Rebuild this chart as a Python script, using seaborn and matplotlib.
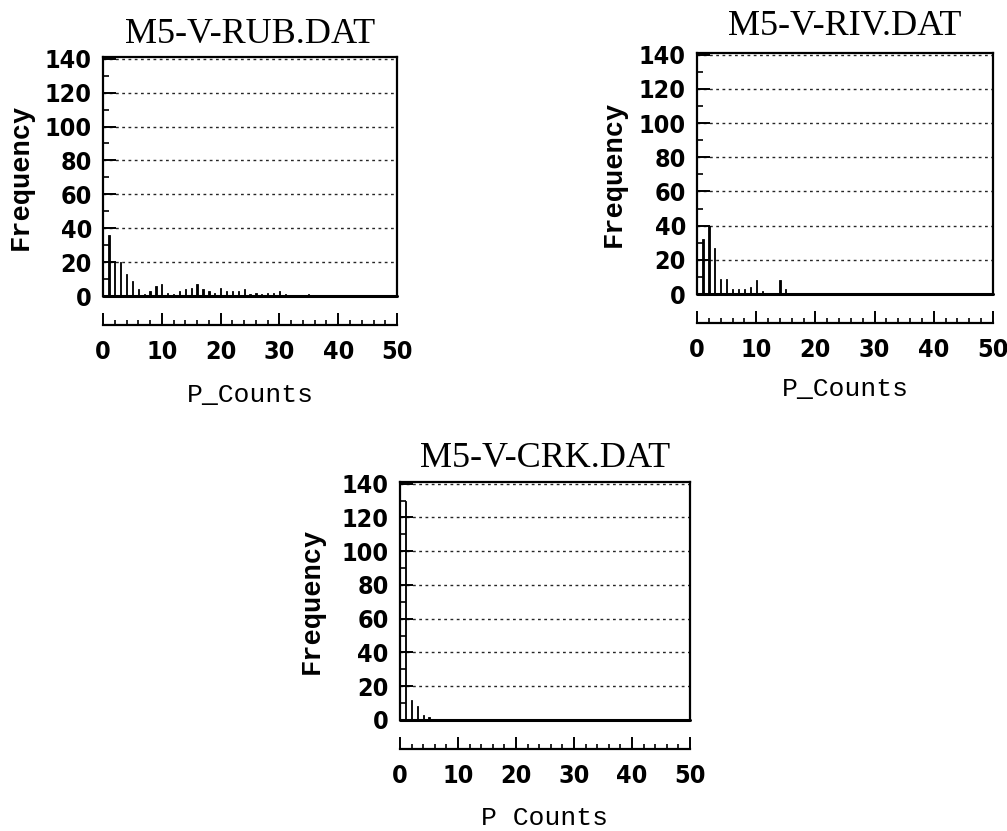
import numpy as np
import matplotlib
matplotlib.use("Agg")
import matplotlib.pyplot as plt
from matplotlib.ticker import MultipleLocator
from matplotlib.font_manager import FontProperties
import seaborn as sns

# P count values and their frequencies
rub_counts = [1, 2, 3, 4, 5, 6, 7, 8, 9, 10, 11, 12, 13, 14, 15, 16, 17, 18,
              19, 20, 21, 22, 23, 24, 25, 26, 27, 28, 29, 30, 31, 35]
rub_freq = [36, 20, 20, 13, 9, 4, 1, 3, 6, 7, 2, 1, 3, 4, 5, 7, 4, 3,
            2, 5, 3, 3, 3, 4, 1, 2, 1, 2, 2, 3, 1, 1]

riv_counts = [1, 2, 3, 4, 5, 6, 7, 8, 9, 10, 11, 14, 15]
riv_freq = [32, 40, 27, 9, 9, 3, 3, 3, 4, 8, 2, 8, 3]

crk_counts = [1, 2, 3, 4, 5]
crk_freq = [130, 12, 8, 3, 2]

titles = ["M5-V-RUB.DAT", "M5-V-RIV.DAT", "M5-V-CRK.DAT"]
xlabels = ["P_Counts", "P_Counts", "P Counts"]

sns.set_style("white")
plt.rcParams["font.family"] = ["DejaVu Sans"]
plt.rcParams["text.color"] = "black"
plt.rcParams["axes.labelcolor"] = "black"
plt.rcParams["xtick.color"] = "black"
plt.rcParams["ytick.color"] = "black"

fig = plt.figure(figsize=(10.07, 8.31), dpi=100)

rects = [
    [0.1023, 0.6438, 0.2920, 0.2876],
    [0.6922, 0.6462, 0.2939, 0.2900],
    [0.3972, 0.1336, 0.2880, 0.2864],
]
ylabel_x = [-0.235, -0.236, -0.259]
xlabel_y = [-0.365, -0.344, -0.36]
title_y = [1.025, 1.04, 1.03]

panels = [(rub_counts, rub_freq), (riv_counts, riv_freq), (crk_counts, crk_freq)]

tick_font = FontProperties(family="DejaVu Sans", weight="bold",
                           stretch="condensed", size=18)

for i, (counts, freq) in enumerate(panels):
    ax = fig.add_axes(rects[i])
    sns.histplot(x=counts, weights=freq, discrete=True, shrink=0.22,
                 color="black", edgecolor="black", linewidth=0.6, alpha=1,
                 ax=ax)
    ax.set_xlim(0, 50)
    ax.set_ylim(0, 141)

    # dotted horizontal grid, like the faded scan lines
    ax.yaxis.grid(True, linestyle=(0, (2, 2.5)), color="0.15", linewidth=1.0)
    ax.set_axisbelow(True)

    for side in ["left", "top", "right"]:
        ax.spines[side].set_linewidth(1.6)
        ax.spines[side].set_color("black")
    # x axis sits detached below the box
    ax.spines["bottom"].set_position(("outward", 21))
    ax.spines["bottom"].set_linewidth(1.6)
    ax.spines["bottom"].set_color("black")
    ax.axhline(0, color="black", linewidth=2.2, clip_on=False, zorder=3)

    ax.xaxis.set_major_locator(MultipleLocator(10))
    ax.xaxis.set_minor_locator(MultipleLocator(2))
    ax.yaxis.set_major_locator(MultipleLocator(20))
    ax.yaxis.set_minor_locator(MultipleLocator(10))
    ax.tick_params(axis="x", which="major", direction="in", length=8.5, width=1.4,
                   pad=11, bottom=True, top=False)
    ax.tick_params(axis="x", which="minor", direction="in", length=3.6, width=1.2,
                   bottom=True, top=False)
    ax.tick_params(axis="y", which="major", direction="in", length=9, width=1.4,
                   pad=8, left=True, right=False)
    ax.tick_params(axis="y", which="minor", direction="in", length=4.5, width=1.2,
                   left=True, right=False)
    for lab in ax.get_xticklabels() + ax.get_yticklabels():
        lab.set_fontproperties(tick_font)

    ax.set_title(titles[i], family="Liberation Serif", fontsize=26, y=title_y[i])
    ax.set_ylabel("Frequency", family="Liberation Mono", fontsize=19.5,
                  fontweight="bold")
    ax.set_xlabel(xlabels[i], family="Liberation Mono", fontsize=19)
    ax.yaxis.set_label_coords(ylabel_x[i], 0.5)
    ax.xaxis.set_label_coords(0.5, xlabel_y[i])

fig.savefig("out.png", dpi=100)
